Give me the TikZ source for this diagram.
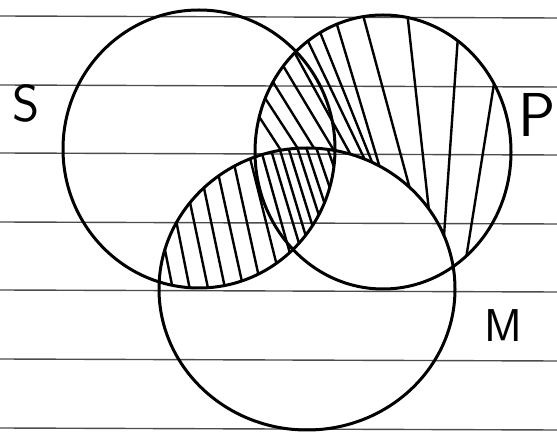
\documentclass[tikz,border=0pt]{standalone}
\usetikzlibrary{math}
\begin{document}
\begin{tikzpicture}[x=1pt,y=-1pt,
  rim/.style={line width=3pt},
  hatch/.style={line width=2.4pt},
  rule/.style={black!70,line width=1.4pt},
  letter/.style={inner sep=0pt}]
\tikzmath{
\rSx=136; \rSy=139;
\rPx=128; \rPy=137;
\rMx=148; \rMy=141;
}
\useasboundingbox (0,0) rectangle (557,435);

%The ruled paper:
\foreach \y in {16,85,153,222,290,359,428}
  \draw[rule] (0,\y) -- (557,\y+2);

\coordinate (cS) at (199,149);
\coordinate (cP) at (383,152);
\coordinate (cM) at (307,289);

%Hatching of S and M:
\begin{scope}
\clip (cS) ellipse [x radius=\rSx, y radius=\rSy];
\clip (cM) ellipse [x radius=\rMx, y radius=\rMy];
\foreach \xo/\s in {145/0.2,162/0.2,179/0.21,196/0.21,213/0.22,231/0.22,248/0.25,261/0.28,271/0.3,280/0.3,289/0.31,298/0.32,307/0.33,317/0.34,328/0.35,340/0.35}
  \draw[hatch] ({\xo-150*\s},0) -- ({\xo+150*\s},300);
\end{scope}

%Hatching of P without M:
\begin{scope}[even odd rule]
\clip (cP) ellipse [x radius=\rPx, y radius=\rPy];
\clip (0,0) rectangle (557,435) (cM) ellipse [x radius=\rMx, y radius=\rMy];
\foreach \xt/\yt/\s in {258/115/0.65,265/98/0.65,273/82/0.62,282/64/0.6,292/48/0.55,305/35/0.48,318/27/0.4,335/18/0.3,363/15/0.27,408/20/0.11,457/50/-0.07,493/90/-0.16}
  \draw[hatch] ({\xt-\s*\yt},0) -- ({\xt+\s*(300-\yt)},300);
\end{scope}

%The circles:
\draw[rim] (cS) ellipse [x radius=\rSx, y radius=\rSy];
\draw[rim] (cP) ellipse [x radius=\rPx, y radius=\rPy];
\draw[rim] (cM) ellipse [x radius=\rMx, y radius=\rMy];

\node[letter,font=\sffamily\fontsize{52}{52}\selectfont] (lS) at (26,103) {S};
\node[letter,font=\sffamily\fontsize{62}{62}\selectfont] (lP) at (537,115) {P};
\node[letter,font=\sffamily\fontsize{46}{46}\selectfont] (lM) at (503,326) {M};
\end{tikzpicture}
\end{document}
